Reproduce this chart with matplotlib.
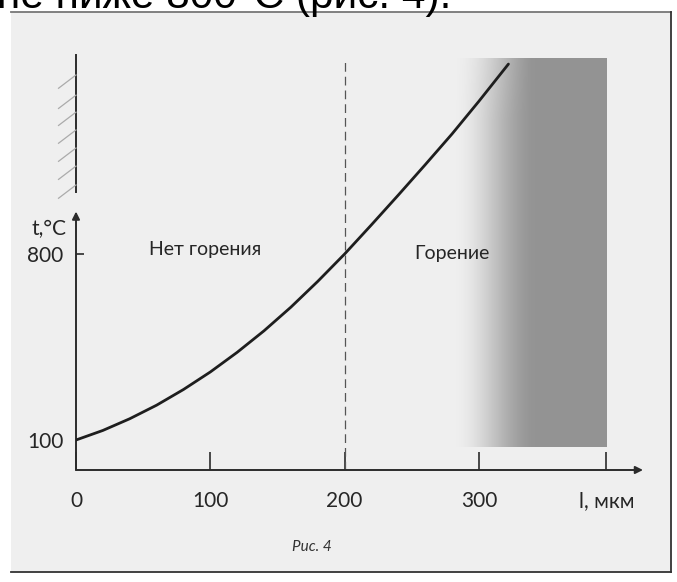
#!/usr/bin/env python3
"""Temperature vs particle size: ignition / no ignition zones (scanned figure, Рис. 4)."""

import matplotlib

matplotlib.use("Agg")
import matplotlib.pyplot as plt
import numpy as np
from matplotlib.lines import Line2D
from matplotlib.patches import Rectangle

# curve: size l (мкм) -> temperature t (°C)
size_um = [0, 20, 40, 60, 80, 100, 120, 140, 160, 180, 200, 220, 240, 260, 280, 300, 322]
temp_c = [100, 136, 180, 231, 290, 356, 430, 511, 600, 697, 800, 910, 1022, 1136, 1252, 1375, 1515]

x_ticks = [0, 100, 200, 300, 395]
x_tick_labels = ["0", "100", "200", "300", "l, мкм"]
y_ticks = [100, 800]
y_tick_labels = ["100", "800"]

boundary_um = 200
zone_labels = ["Нет горения", "Горение"]
caption = "Рис. 4"
cut_text = "не ниже 800°С (рис. 4)."

W, H = 677, 582
fig = plt.figure(figsize=(W / 100, H / 100), dpi=100)
fig.patch.set_facecolor("white")


def fx(px):
    return px / W


def fy(py):
    return 1 - py / H


# scanned page background and frame
fig.patches.append(Rectangle((fx(11), fy(572)), fx(671) - fx(11), fy(12) - fy(572),
                             transform=fig.transFigure, facecolor="#efefef", edgecolor="none", zorder=-5))
for xs, ys, c in [((11, 671), (12, 12), "#777777"), ((671, 671), (12, 572), "#333333"),
                  ((11, 671), (572, 572), "#333333")]:
    fig.lines.append(Line2D([fx(xs[0]), fx(xs[1])], [fy(ys[0]), fy(ys[1])],
                            transform=fig.transFigure, color=c, lw=1.3, zorder=-4))

fig.text(-0.004, fy(8), cut_text, fontsize=30.5, family="Liberation Sans", color="black", va="baseline")

ax = fig.add_axes([fx(76), fy(470), fx(643) - fx(76), fy(12) - fy(470)])
ax.set_xlim(0, 422.2)
ax.set_ylim(-12.9, 1711)
ax.patch.set_alpha(0)
for s in ax.spines.values():
    s.set_visible(False)

font = "Lato"
axis_color = "#2b2b2b"
text_color = "#262626"

# burning zone shading (gray fading in from the left, a bit lighter at the top-left)
gx = np.linspace(0, 1, 300)
gy = np.linspace(0, 1, 60)[:, None]
ramp = np.clip(gx / 0.55, 0, 1)
alpha = ramp * ramp * (3 - 2 * ramp)
alpha = alpha * (1 - 0.35 * np.clip((gy - 0.85) / 0.15, 0, 1) * (1 - np.clip(gx / 0.5, 0, 1)))
shade = np.zeros((gy.size, gx.size, 4))
shade[..., :3] = 0.58
shade[..., 3] = alpha
ax.imshow(shade, extent=(281, 395, 74, 1538), origin="lower", aspect="auto",
          interpolation="bilinear", zorder=1)

# axes with arrows
ax.annotate("", xy=(422.2, -12.9), xytext=(0, -12.9),
            arrowprops=dict(arrowstyle="-|>", lw=1.4, color=axis_color, mutation_scale=11,
                            shrinkA=0, shrinkB=0), annotation_clip=False)
ax.annotate("", xy=(0, 960), xytext=(0, -12.9),
            arrowprops=dict(arrowstyle="-|>", lw=1.4, color=axis_color, mutation_scale=11,
                            shrinkA=0, shrinkB=0), annotation_clip=False)

ax.set_xticks(x_ticks)
ax.set_xticklabels(x_tick_labels, fontsize=15, family=font, color=text_color)
ax.tick_params(axis="x", direction="in", length=13, width=1.2, color=axis_color, pad=15)
ax.set_yticks(y_ticks)
ax.set_yticklabels(y_tick_labels, fontsize=15, family=font, color=text_color)
ax.tick_params(axis="y", direction="in", length=6, width=1.2, color=axis_color, pad=9)
ax.yaxis.get_major_ticks()[0].tick1line.set_visible(False)
ax.annotate("t,°C", xy=(0, 895), xytext=(-7, 0), textcoords="offset points",
            ha="right", va="center", fontsize=15, family=font, color=text_color)

# wall with hatching at the top of the axis
ax.plot([0, 0], [1033, 1549], color=axis_color, lw=1.4, clip_on=False)
hatch_tops = [1474, 1398, 1334, 1267, 1199, 1131, 1060]
for t in hatch_tops:
    ax.plot([-13, 0], [t - 50, t], color="#ababab", lw=0.9, clip_on=False)

# boundary between zones
ax.plot([boundary_um, boundary_um], [-12.9, 1538], color="#555555", lw=0.9, ls=(0, (7, 4)), zorder=2)

ax.plot(size_um, temp_c, color="#1e1e1e", lw=2.0, solid_capstyle="round", zorder=3)

ax.text(96, 818, zone_labels[0], fontsize=14, family=font, color=text_color, ha="center", va="center")
ax.text(280, 803, zone_labels[1], fontsize=14, family=font, color=text_color, ha="center", va="center")

fig.text(fx(312), fy(547), caption, fontsize=11, family=font, style="italic",
         color="#333333", ha="center", va="center")

fig.savefig("out.png", dpi=100)
